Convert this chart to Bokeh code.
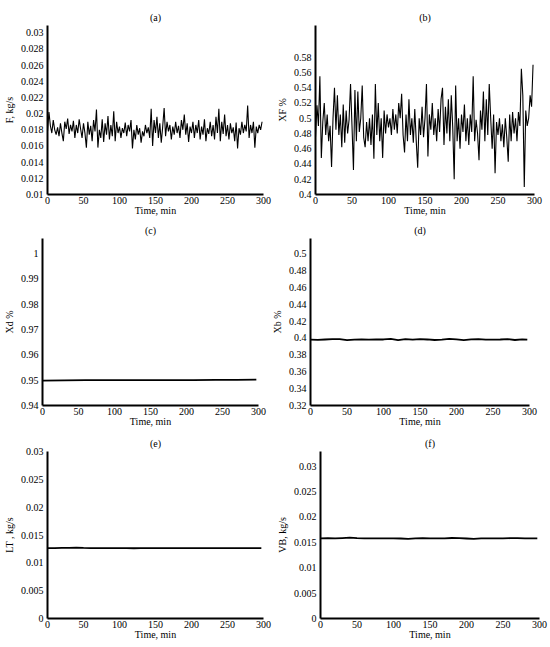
from bokeh.plotting import figure
from bokeh.layouts import column, row
from bokeh.models import Range1d, FixedTicker, CustomJSTickFormatter
from bokeh.embed import file_html
from bokeh.resources import INLINE

# ---------------- data ----------------
t_noisy = list(range(0, 300, 2))  # 0 .. 298 min

F_vals = [0.0178, 0.0202, 0.0185, 0.0176, 0.0192, 0.0180, 0.0174, 0.0183, 0.0172, 0.0188,
          0.0176, 0.0166, 0.0190, 0.0181, 0.0194, 0.0175, 0.0186, 0.0178, 0.0191, 0.0170,
          0.0186, 0.0176, 0.0193, 0.0181, 0.0170, 0.0188, 0.0176, 0.0158, 0.0190, 0.0174,
          0.0185, 0.0166, 0.0192, 0.0178, 0.0205, 0.0158, 0.0180, 0.0170, 0.0193, 0.0165,
          0.0188, 0.0174, 0.0197, 0.0168, 0.0186, 0.0172, 0.0203, 0.0166, 0.0190, 0.0176,
          0.0184, 0.0170, 0.0182, 0.0176, 0.0189, 0.0172, 0.0186, 0.0178, 0.0192, 0.0157,
          0.0180, 0.0168, 0.0186, 0.0174, 0.0182, 0.0164, 0.0178, 0.0172, 0.0186, 0.0176,
          0.0183, 0.0170, 0.0206, 0.0160, 0.0192, 0.0176, 0.0196, 0.0170, 0.0188, 0.0164,
          0.0184, 0.0207, 0.0172, 0.0190, 0.0178, 0.0186, 0.0168, 0.0184, 0.0174, 0.0190,
          0.0176, 0.0185, 0.0170, 0.0192, 0.0180, 0.0199, 0.0174, 0.0188, 0.0165, 0.0184,
          0.0176, 0.0190, 0.0170, 0.0186, 0.0176, 0.0192, 0.0168, 0.0184, 0.0174, 0.0193,
          0.0166, 0.0182, 0.0175, 0.0190, 0.0172, 0.0186, 0.0168, 0.0196, 0.0176, 0.0206,
          0.0166, 0.0190, 0.0175, 0.0199, 0.0172, 0.0186, 0.0168, 0.0188, 0.0176, 0.0183,
          0.0166, 0.0189, 0.0157, 0.0182, 0.0174, 0.0190, 0.0176, 0.0186, 0.0178, 0.0210,
          0.0170, 0.0186, 0.0176, 0.0190, 0.0158, 0.0184, 0.0176, 0.0186, 0.0180, 0.0190]

XF_vals = [0.475, 0.517, 0.490, 0.555, 0.448, 0.495, 0.520, 0.478, 0.505, 0.470,
           0.490, 0.436, 0.500, 0.540, 0.485, 0.530, 0.478, 0.505, 0.462, 0.518,
           0.468, 0.510, 0.480, 0.498, 0.545, 0.490, 0.432, 0.537, 0.470, 0.535,
           0.482, 0.500, 0.543, 0.475, 0.462, 0.495, 0.470, 0.500, 0.465, 0.505,
           0.447, 0.545, 0.478, 0.520, 0.470, 0.500, 0.448, 0.510, 0.480, 0.505,
           0.488, 0.500, 0.478, 0.512, 0.485, 0.505, 0.480, 0.520, 0.500, 0.532,
           0.478, 0.455, 0.505, 0.470, 0.525, 0.478, 0.500, 0.468, 0.512, 0.470,
           0.435, 0.500, 0.478, 0.515, 0.475, 0.500, 0.545, 0.450, 0.505, 0.485,
           0.520, 0.478, 0.500, 0.470, 0.512, 0.482, 0.525, 0.540, 0.465, 0.515,
           0.480, 0.525, 0.470, 0.530, 0.488, 0.420, 0.543, 0.470, 0.500, 0.460,
           0.505, 0.482, 0.518, 0.470, 0.500, 0.465, 0.505, 0.482, 0.555, 0.470,
           0.498, 0.480, 0.445, 0.510, 0.485, 0.535, 0.470, 0.525, 0.478, 0.545,
           0.500, 0.460, 0.505, 0.428, 0.495, 0.478, 0.500, 0.470, 0.492, 0.462,
           0.500, 0.475, 0.443, 0.505, 0.470, 0.508, 0.480, 0.500, 0.470, 0.508,
           0.490, 0.565, 0.530, 0.410, 0.510, 0.490, 0.500, 0.530, 0.515, 0.570]

t_flat_c = [0, 30, 60, 90, 120, 150, 180, 210, 240, 270, 297]
Xd_vals = [0.9498, 0.9499, 0.9500, 0.9500, 0.9500, 0.9500, 0.9500, 0.9500, 0.9501, 0.9501, 0.9502]

t_flat = [0, 10, 20, 30, 40, 50, 60, 70, 80, 90, 100, 110, 120, 130, 140, 150,
          160, 170, 180, 190, 200, 210, 220, 230, 240, 250, 260, 270, 280, 290, 297]

Xb_vals = [0.3980, 0.3978, 0.3982, 0.3985, 0.3986, 0.3975, 0.3980, 0.3982, 0.3981, 0.3983,
           0.3982, 0.3988, 0.3974, 0.3986, 0.3980, 0.3986, 0.3982, 0.3976, 0.3980, 0.3988,
           0.3982, 0.3974, 0.3984, 0.3986, 0.3980, 0.3980, 0.3982, 0.3986, 0.3976, 0.3984,
           0.3980]

LT_vals = [0.01265, 0.01266, 0.01267, 0.01268, 0.01272, 0.01268, 0.01266, 0.01265, 0.01266, 0.01264,
           0.01263, 0.01265, 0.01262, 0.01264, 0.01265, 0.01266, 0.01265, 0.01266, 0.01265, 0.01266,
           0.01264, 0.01265, 0.01266, 0.01265, 0.01264, 0.01266, 0.01265, 0.01265, 0.01266, 0.01265,
           0.01265]

VB_vals = [0.01580, 0.01582, 0.01578, 0.01585, 0.01592, 0.01584, 0.01580, 0.01578, 0.01580, 0.01579,
           0.01580, 0.01576, 0.01568, 0.01578, 0.01582, 0.01580, 0.01578, 0.01580, 0.01586, 0.01582,
           0.01576, 0.01570, 0.01578, 0.01580, 0.01578, 0.01580, 0.01582, 0.01584, 0.01578, 0.01580,
           0.01580]

x_ticks = [0, 50, 100, 150, 200, 250, 300]
F_ticks = [0.01, 0.012, 0.014, 0.016, 0.018, 0.02, 0.022, 0.024, 0.026, 0.028, 0.03]
XF_ticks = [0.4, 0.42, 0.44, 0.46, 0.48, 0.5, 0.52, 0.54, 0.56, 0.58]
Xd_ticks = [0.94, 0.95, 0.96, 0.97, 0.98, 0.99, 1.0]
Xb_ticks = [0.32, 0.34, 0.36, 0.38, 0.4, 0.42, 0.44, 0.46, 0.48, 0.5]
LT_ticks = [0, 0.005, 0.01, 0.015, 0.02, 0.025, 0.03]
VB_ticks = [0, 0.005, 0.01, 0.015, 0.02, 0.025, 0.03]

FONT = "Liberation Serif"
FS = "10px"

fmt_code = "return String(Number(tick.toFixed(4)));"


def make_panel(title, ylabel, xs, ys, yrange, yticks, lw, col, rowi):
    fw = 216 if col == 0 else 219
    fh = 169 if rowi == 0 else 167
    mbl = 39 if col == 0 else 41
    mbr = 10 if col == 0 else 9
    mbt = [25, 19, 22][rowi]
    mbb = [25, 24, 21][rowi]
    p = figure(frame_width=fw, frame_height=fh, min_border_left=mbl, min_border_right=mbr,
               min_border_top=mbt, min_border_bottom=mbb,
               x_range=Range1d(0, 300), y_range=Range1d(*yrange),
               toolbar_location=None, output_backend="svg", title=title)
    p.title.text_font = FONT
    p.title.text_font_size = FS
    p.title.text_font_style = "normal"
    p.title.text_color = "black"
    p.title.align = "center"
    p.title.standoff = 6
    p.outline_line_color = None
    p.xgrid.visible = False
    p.ygrid.visible = False
    p.line(xs, ys, line_color="black", line_width=lw)

    for ax in (p.xaxis[0], p.yaxis[0]):
        ax.axis_line_width = 2
        ax.axis_line_color = "black"
        ax.major_tick_in = 0
        ax.major_tick_out = 0
        ax.minor_tick_in = 0
        ax.minor_tick_out = 0
        ax.major_label_text_font = FONT
        ax.major_label_text_font_size = FS
        ax.major_label_text_color = "black"
        ax.axis_label_text_font = FONT
        ax.axis_label_text_font_size = FS
        ax.axis_label_text_font_style = "normal"
        ax.axis_label_text_color = "black"
        ax.formatter = CustomJSTickFormatter(code=fmt_code)

    p.xaxis.ticker = FixedTicker(ticks=x_ticks)
    p.xaxis.axis_label = "Time, min"
    p.xaxis.major_label_standoff = 2
    p.xaxis.axis_label_standoff = -2
    p.yaxis.ticker = FixedTicker(ticks=yticks)
    p.yaxis.axis_label = ylabel
    p.yaxis.major_label_standoff = 4
    p.yaxis.axis_label_standoff = 3
    return p


pa = make_panel("(a)", "F, kg/s", t_noisy, F_vals, (0.01, 0.0309), F_ticks, 1.1, 0, 0)
pb = make_panel("(b)", "XF %", t_noisy, XF_vals, (0.4, 0.6216), XF_ticks, 1.1, 1, 0)
pc = make_panel("(c)", "Xd %", t_flat_c, Xd_vals, (0.94, 1.006), Xd_ticks, 1.8, 0, 1)
pd = make_panel("(d)", "Xb %", t_flat, Xb_vals, (0.32, 0.5178), Xb_ticks, 1.8, 1, 1)
pe = make_panel("(e)", "LT , kg/s", t_flat, LT_vals, (0.0, 0.03), LT_ticks, 1.8, 0, 2)
pf = make_panel("(f)", "VB, kg/s", t_flat, VB_vals, (0.0, 0.0329), VB_ticks, 1.8, 1, 2)

layout = column(row(pa, pb), row(pc, pd), row(pe, pf))

open("out.html", "w").write(file_html(layout, INLINE))
